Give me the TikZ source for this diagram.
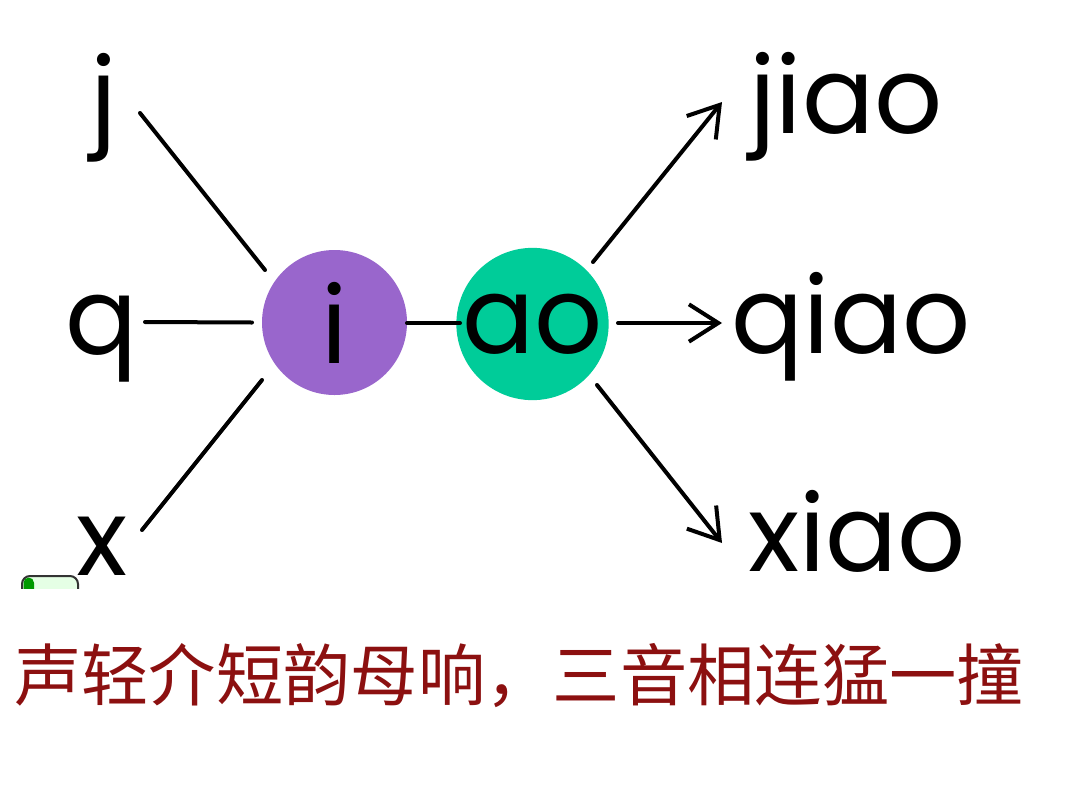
\documentclass[tikz,border=0pt]{standalone}
\usepackage{fontspec}
\setmainfont{Poppins}
\newfontfamily\cjk{Noto Sans CJK SC}
\usetikzlibrary{arrows.meta,calc}
\definecolor{ipurple}{RGB}{153,102,204}
\definecolor{aogreen}{RGB}{0,204,153}
\definecolor{verse}{RGB}{140,16,16}
\begin{document}
\begin{tikzpicture}[x=0.75pt,y=-0.75pt,
  letter/.style={font=\fontsize{80}{80}\selectfont, inner sep=0pt, outer sep=0pt, anchor=base},
  ball/.style={circle, inner sep=0pt, outer sep=0pt, font=\fontsize{80}{80}\selectfont},
  conn/.style={line width=3pt, line cap=round},
  arr/.style={conn, -{Straight Barb[length=22pt, width=28pt, line width=3pt]}},
  verseline/.style={font=\cjk\fontsize{50.5}{50.5}\selectfont, text=verse, inner sep=0pt, anchor=base west}
]
\useasboundingbox (0,0) rectangle (1080,810);
\fill[white] (0,0) rectangle (1080,810);
% initials
\node[letter] (j) at (104,134) {j};
\node[letter] (q) at (102,354) {q};
\node[letter] (x) at (102,575) {x};
% medial and final
\node[ball, fill=ipurple, minimum size=108.75pt] (i) at (334.5,322.5) {i};
\node[ball, fill=aogreen, minimum size=111.75pt] (ao) at (532.5,324) {ao};
% syllables
\node[letter] (jiao) at (846,133) {jiao};
\node[letter] (qiao) at (851,353) {qiao};
\node[letter] (xiao) at (857,571) {xiao};
% connectors
\draw[conn] ($(j.base)+(36,-21)$) -- ($(i)+(-69.5,-52.5)$);
\draw[conn] ($(q.base)+(43,-32)$) -- ($(i)+(-82.5,0)$);
\draw[conn] ($(x.base)+(40,-45)$) -- ($(i)+(-72.5,57.5)$);
\draw[conn] ($(i)+(72.5,0.5)$) -- ($(ao)+(-72.5,-1)$);
\draw[arr] ($(ao)+(60.5,-62)$) -- ($(jiao.base)+(-124,-31)$);
\draw[arr] ($(ao)+(85.5,-1)$) -- ($(qiao.base)+(-129,-30)$);
\draw[arr] ($(ao)+(64.5,61)$) -- ($(xiao.base)+(-135,-28)$);
% verse
\node[verseline] (verse) at (14,700) {声轻介短韵母响，三音相连猛一撞};
% small clipped icon at lower left
\begin{scope}
\clip (18,573) rectangle (82,588);
\draw[line width=1.5pt, draw=black!80, fill=green!10, rounded corners=6pt] (22,576) rectangle (78,600);
\fill[green!60!black, rounded corners=4pt] (23.5,577.5) rectangle (34,600);
\end{scope}
\end{tikzpicture}
\end{document}
